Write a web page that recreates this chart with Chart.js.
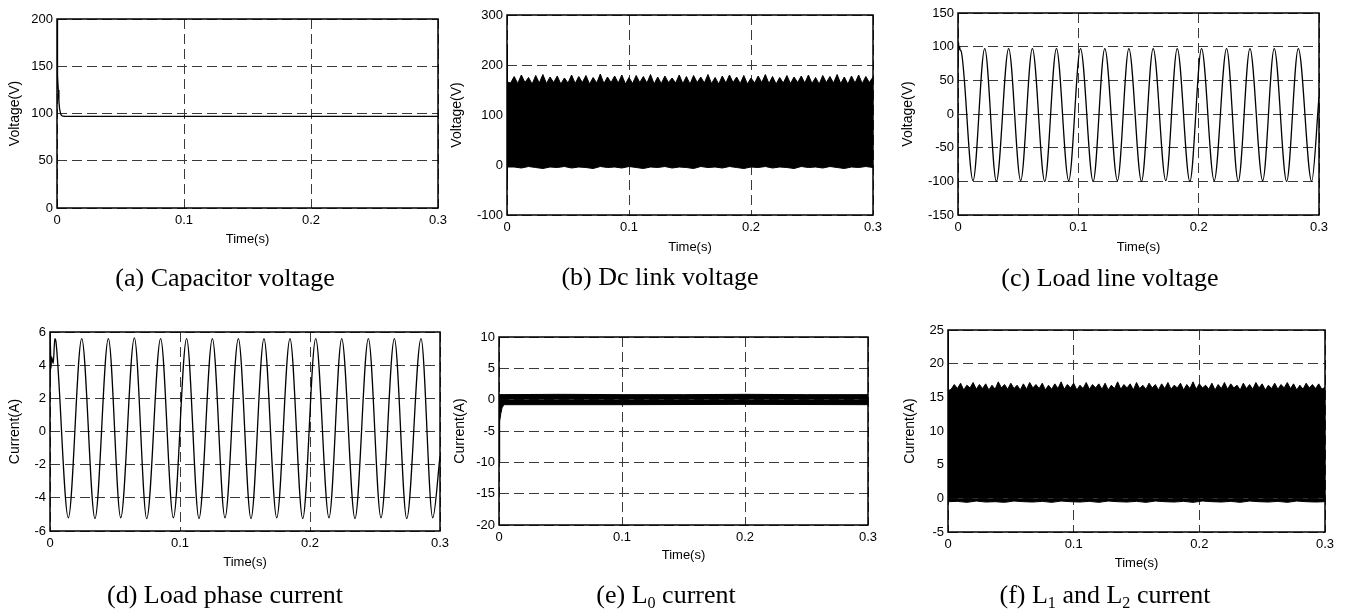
<!DOCTYPE html>
<html>
<head>
<meta charset="utf-8">
<script src="https://cdn.jsdelivr.net/npm/chart.js@4.4.1/dist/chart.umd.min.js"></script>
<style>
  html, body { margin: 0; padding: 0; background: #fff; }
  #sheet { position: relative; width: 1347px; height: 611px; transform-origin: 0 0; }
  #sheet canvas { position: absolute; left: 0; top: 0; }
  .caption {
    position: absolute; white-space: nowrap; line-height: 1; color: #000;
    font-family: "Liberation Serif", "Times New Roman", serif; font-size: 26px;
    transform: translateX(-50%);
  }
  .caption sub { font-size: 0.62em; vertical-align: -0.3em; line-height: 0; }
</style>
</head>
<body>
<div id="sheet"></div>
<script>
const SX = 1;               // horizontal stretch of the sheet
const PAGE_W = 1347, PAGE_H = 611;

const timeTicks = [0, 0.1, 0.2, 0.3];

// (a) capacitor voltage
const capTime = [0, 0.0002, 0.0006, 0.001, 0.0015, 0.002, 0.003, 0.004, 0.006, 0.3];
const capVoltage = [200, 162, 140, 125, 113, 105, 99, 97.5, 97, 97];
const capTicks = [0, 50, 100, 150, 200];

// (b) dc link voltage: start-up, then ripple envelope (base / peak pairs)
const dcStartTime = [0, 0.0004];
const dcStartTop = [241, 166];
const dcStartBottom = [-30, -4];
const dcTop = [
  164,177, 163,180, 165,175, 162,179, 164,181, 163,176, 165,178, 162,174, 164,180, 163,177,
  165,179, 162,175, 164,182, 163,176, 165,178, 164,180, 162,175, 163,179, 165,177, 164,181,
  162,176, 163,178, 165,174, 164,180, 163,177, 162,179, 165,176, 164,181, 163,175, 162,178,
  164,180, 165,176, 163,179, 162,174, 164,178, 165,181, 163,177, 162,175, 164,179, 163,176,
  165,178, 164,180, 163,175, 162,179, 165,177, 164,181, 163,176, 162,178, 164,180, 163,177,
  165,176
];
const dcBottom = [
  -4,-6,-3,-5,-7,-4,-5,-3,-6,-4, -5,-7,-3,-5,-4,-6,-3,-5,-7,-4,
  -5,-3,-6,-4,-5,-7,-3,-5,-4,-6, -3,-5,-7,-4,-5,-3,-6,-4,-5,-7,
  -3,-5,-4,-6,-3,-5,-7,-4,-5,-3, -5
];
const dcTicks = [-100, 0, 100, 200, 300];

// (c) load line voltage: start-up wobble, then troughs and crests
const lineTime = [0, 0.0004, 0.0008, 0.0013, 0.0018, 0.0025,
  0.0125, 0.0222, 0.0319, 0.0421, 0.0521, 0.0618, 0.0721, 0.0818, 0.0920, 0.1018,
  0.1123, 0.1220, 0.1325, 0.1420, 0.1525, 0.1622, 0.1727, 0.1822, 0.1927, 0.2024,
  0.2129, 0.2232, 0.2329, 0.2426, 0.2532, 0.2628, 0.2731, 0.2828, 0.2939, 0.3];
const lineVoltage = [80, 107, 96, 100, 95, 94,
  -99, 97, -100, 97, -99, 97, -100, 97, -99, 97,
  -100, 97, -99, 97, -100, 97, -99, 97, -100, 97,
  -99, 97, -100, 97, -99, 97, -100, 97, -100, 25];
const lineTicks = [-150, -100, -50, 0, 50, 100, 150];

// (d) load phase current
const phaseTime = [0, 0.0003, 0.0007, 0.0012, 0.0025, 0.0037, 0.0046,
  0.0141, 0.0244, 0.0346, 0.0449, 0.0544, 0.0649, 0.0744, 0.0851, 0.0949, 0.1051,
  0.1146, 0.1249, 0.1346, 0.1449, 0.1546, 0.1646, 0.1744, 0.1846, 0.1944, 0.2044,
  0.2146, 0.2244, 0.2346, 0.2449, 0.2546, 0.2649, 0.2744, 0.2854, 0.2944, 0.3];
const phaseCurrent = [3.2, 5.4, 3.8, 4.5, 4.1, 5.6, 5.4,
  -5.2, 5.6, -5.25, 5.6, -5.2, 5.65, -5.25, 5.6, -5.2, 5.6,
  -5.25, 5.6, -5.2, 5.6, -5.25, 5.6, -5.2, 5.6, -5.25, 5.6,
  -5.2, 5.6, -5.25, 5.6, -5.2, 5.6, -5.25, 5.6, -5.2, -1.5];
const phaseTicks = [-6, -4, -2, 0, 2, 4, 6];

// (e) L0 current: narrow ripple band after the start-up dip
const l0TopTime = [0, 0.05, 0.1, 0.15, 0.2, 0.25, 0.3];
const l0Top = [0.8, 0.85, 0.8, 0.8, 0.85, 0.8, 0.8];
const l0BottomTime = [0, 0.0003, 0.0008, 0.0015, 0.0025, 0.004, 0.1, 0.2, 0.3];
const l0Bottom = [-10, -5, -3.4, -2.2, -1.3, -0.8, -0.8, -0.75, -0.8];
const l0Ticks = [-20, -15, -10, -5, 0, 5, 10];

// (f) L1 and L2 current
const l12StartTime = [0, 0.0004];
const l12StartTop = [24.5, 16.0];
const l12Top = [
  16.2,16.9, 16.3,17.1, 16.1,16.8, 16.4,17.2, 16.2,16.9, 16.3,17.0, 16.1,16.8, 16.2,17.3, 16.4,16.9, 16.2,17.1,
  16.3,16.8, 16.1,17.0, 16.2,17.2, 16.4,16.9, 16.3,17.1, 16.1,16.8, 16.2,17.0, 16.3,17.3, 16.2,16.9, 16.4,17.1,
  16.1,16.8, 16.3,17.2, 16.2,16.9, 16.4,17.0, 16.2,17.1, 16.1,16.8, 16.3,17.3, 16.2,16.9, 16.4,17.0, 16.1,17.2,
  16.3,16.8, 16.2,17.1, 16.4,16.9, 16.1,17.0, 16.3,17.2, 16.2,16.8, 16.4,17.1, 16.1,16.9, 16.3,17.3, 16.2,17.0,
  16.4,16.8, 16.2,17.1, 16.1,16.9, 16.3,17.2, 16.2,17.0, 16.4,16.8, 16.1,17.1, 16.3,16.9, 16.2,17.2, 16.4,17.0,
  16.1,16.8, 16.3,17.1, 16.2,16.9, 16.4,17.2, 16.3,17.0, 16.1,16.8, 16.2,17.1, 16.4,16.9, 16.3,17.0, 16.2,16.5
];
const l12StartBottom = [-0.5, -0.5];
const l12Bottom = [
  -0.45,-0.6,-0.4,-0.55,-0.5,-0.6,-0.4,-0.5,-0.55,-0.45,
  -0.6,-0.4,-0.5,-0.55,-0.45,-0.6,-0.4,-0.5,-0.55,-0.45,
  -0.6,-0.4,-0.5,-0.55,-0.45,-0.6,-0.4,-0.5,-0.55,-0.45,
  -0.6,-0.4,-0.5,-0.55,-0.45,-0.6,-0.4,-0.5,-0.55,-0.5
];
const l12Ticks = [-5, 0, 5, 10, 15, 20, 25];

// ---------------------------------------------------------------

function zip(xs, ys) {
  return xs.map((x, i) => ({ x, y: ys[i] }));
}

// start-up points with their own times, then evenly sampled ripple up to 0.3 s
function withRipple(startTime, startValues, ripple) {
  const step = 0.3 / ripple.length;
  const pts = zip(startTime, startValues);
  ripple.forEach((v, i) => pts.push({ x: (i + 1) * step, y: v }));
  return pts;
}

function trace(points, smooth) {
  return {
    data: points, borderColor: '#000', borderWidth: 1.3, pointRadius: 0,
    fill: false, cubicInterpolationMode: smooth ? 'monotone' : 'default'
  };
}

function band(points) {
  return {
    data: points, borderColor: '#000', borderWidth: 1, pointRadius: 0,
    backgroundColor: '#000', fill: { value: 0 }
  };
}

const framePlugin = {
  id: 'frame',
  afterDatasetsDraw(chart) {
    const { ctx, chartArea: a } = chart;
    ctx.save();
    ctx.strokeStyle = '#000';
    ctx.lineWidth = 1.5;
    ctx.strokeRect(a.left, a.top, a.right - a.left, a.bottom - a.top);
    ctx.restore();
  }
};

const tickFont = { family: 'Liberation Sans, Arial, sans-serif', size: 13 };
const xTitleFont = { family: 'Liberation Sans, Arial, sans-serif', size: 13 };
const yTitleFont = { family: 'Liberation Sans, Arial, sans-serif', size: 14 };

const panels = [
  { box: [57, 438, 19, 208], yTitleX: 15, xTitleY: 239, yTitle: 'Voltage(V)', yTicks: capTicks,
    datasets: [trace(zip(capTime, capVoltage), false)],
    caption: '(a) Capacitor voltage', capX: 225, capY: 278 },
  { box: [507, 873, 15, 215], yTitleX: 457, xTitleY: 247, yTitle: 'Voltage(V)', yTicks: dcTicks,
    datasets: [band(withRipple(dcStartTime, dcStartTop, dcTop)),
               band(withRipple(dcStartTime, dcStartBottom, dcBottom))],
    caption: '(b) Dc link voltage', capX: 660, capY: 277 },
  { box: [958, 1319, 13, 215], yTitleX: 908, xTitleY: 247, yTitle: 'Voltage(V)', yTicks: lineTicks,
    datasets: [trace(zip(lineTime, lineVoltage), true)],
    caption: '(c) Load line voltage', capX: 1110, capY: 278 },
  { box: [50, 440, 332, 531], yTitleX: 15, xTitleY: 562, yTitle: 'Current(A)', yTicks: phaseTicks,
    datasets: [trace(zip(phaseTime, phaseCurrent), true)],
    caption: '(d) Load phase current', capX: 225, capY: 595 },
  { box: [499, 868, 337, 525], yTitleX: 460, xTitleY: 555, yTitle: 'Current(A)', yTicks: l0Ticks,
    datasets: [band(zip(l0TopTime, l0Top)), band(zip(l0BottomTime, l0Bottom))],
    caption: '(e) L<sub>0</sub> current', capX: 666, capY: 595 },
  { box: [948, 1325, 330, 532], yTitleX: 910, xTitleY: 563, yTitle: 'Current(A)', yTicks: l12Ticks,
    datasets: [band(withRipple(l12StartTime, l12StartTop, l12Top)),
               band(withRipple(l12StartTime, l12StartBottom, l12Bottom))],
    caption: '(f) L<sub>1</sub> and L<sub>2</sub> current', capX: 1105, capY: 595 }
];

const sheet = document.getElementById('sheet');
sheet.style.width = (PAGE_W / SX) + 'px';
sheet.style.transform = 'scaleX(' + SX + ')';

function makePanel(p) {
  const canvas = document.createElement('canvas');
  canvas.width = Math.round(PAGE_W / SX);
  canvas.height = PAGE_H;
  sheet.appendChild(canvas);

  const [L, R, T, B] = p.box;
  const yw = (L - p.yTitleX) / SX + yTitleFont.size * 1.2 / 2;
  const xh = p.xTitleY - B + xTitleFont.size * 1.2 / 2;
  const grid = { color: '#3a3a3a', lineWidth: 1, drawTicks: false };
  const border = { display: false, dash: [10, 5] };

  new Chart(canvas, {
    type: 'line',
    data: { datasets: p.datasets },
    options: {
      responsive: false,
      animation: false,
      events: [],
      layout: {
        padding: { left: L / SX - yw, right: (PAGE_W - R) / SX, top: T, bottom: PAGE_H - B - xh }
      },
      plugins: { legend: { display: false }, tooltip: { enabled: false } },
      scales: {
        x: {
          type: 'linear', min: 0, max: 0.3,
          afterFit: s => { s.height = xh; },
          afterBuildTicks: s => { s.ticks = timeTicks.map(v => ({ value: v })); },
          ticks: { padding: 5, font: tickFont, color: '#000', autoSkip: false, maxRotation: 0,
                   callback: v => String(v) },
          grid, border,
          title: { display: true, text: 'Time(s)', padding: 0, font: xTitleFont, color: '#000' }
        },
        y: {
          type: 'linear', min: p.yTicks[0], max: p.yTicks[p.yTicks.length - 1],
          afterFit: s => { s.width = yw; },
          afterBuildTicks: s => { s.ticks = p.yTicks.map(v => ({ value: v })); },
          ticks: { padding: 4, font: tickFont, color: '#000', autoSkip: false,
                   callback: v => String(v) },
          grid, border,
          title: { display: true, text: p.yTitle, padding: 0, font: yTitleFont, color: '#000' }
        }
      }
    },
    plugins: [framePlugin]
  });

  const cap = document.createElement('div');
  cap.className = 'caption';
  cap.innerHTML = p.caption;
  cap.style.left = (p.capX / SX) + 'px';
  cap.style.top = (p.capY - 13) + 'px';
  sheet.appendChild(cap);
}

panels.forEach(makePanel);
</script>
</body>
</html>
